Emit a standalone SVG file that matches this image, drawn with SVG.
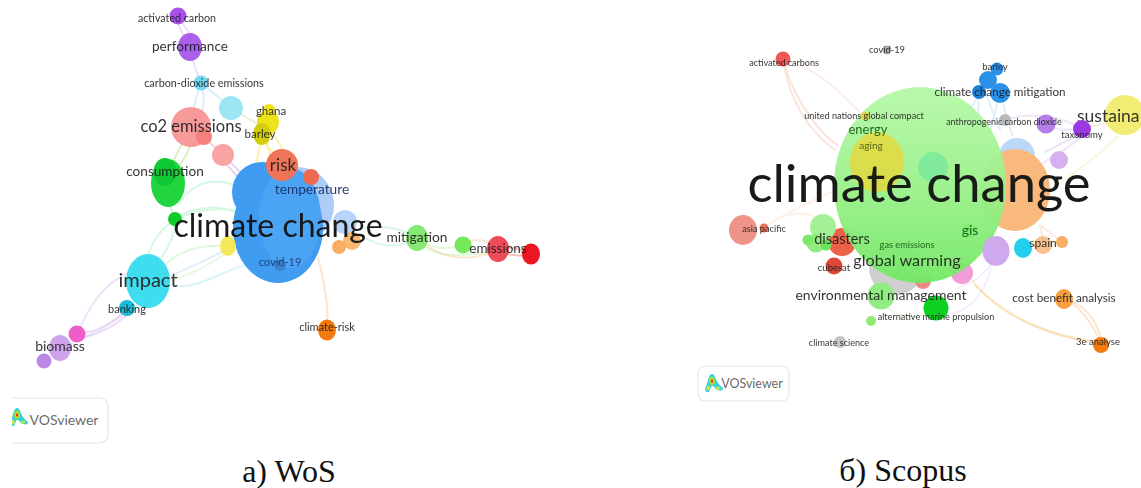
<svg xmlns="http://www.w3.org/2000/svg" width="1141" height="488" viewBox="0 0 1141 488">
<style>
text{font-family:"Lato","Liberation Sans",sans-serif;text-anchor:middle;fill:#1c1c1c;fill-opacity:.9}
.cap{font-family:"Liberation Serif",serif;font-size:32px;fill:#111;fill-opacity:1}
.big{fill:#111;fill-opacity:.95}
.e{fill:none;stroke-width:2;stroke-opacity:.45;stroke-linecap:round}
.vv{font-size:14px;fill:#555}
.box{fill:#fff;stroke:#e6e6e6;stroke-width:1.2}
</style>
<defs>
<filter id="soft" x="-5%" y="-5%" width="110%" height="110%"><feGaussianBlur stdDeviation="0.5"/></filter>
<linearGradient id="bigGreen" x1="0" y1="0" x2="0" y2="1"><stop offset="0" stop-color="#b6f8a8"/><stop offset=".55" stop-color="#98f088"/><stop offset="1" stop-color="#72e864"/></linearGradient>
<clipPath id="clipLeft"><rect x="12" y="390" width="100" height="60"/></clipPath>
<g id="icon">
<path d="M7 0C10 0 11 7 13 9C15 12 18 13 18 15C18 17 13 17 10 14C9 12 7 11 6 13C5 15 5 19 2 18C-1 17 0 13 2 10C3 7 4 0 7 0Z" fill="#2fd0e0"/>
<ellipse cx="7" cy="7" rx="3" ry="4.4" fill="#8ee04a"/>
<ellipse cx="7" cy="7" rx="1.8" ry="2.8" fill="#f6c21c"/>
<ellipse cx="7" cy="7" rx="1" ry="1.6" fill="#d9261c"/>
<ellipse cx="13" cy="14" rx="2.6" ry="1.7" fill="#a5e65a"/>
<ellipse cx="3" cy="14" rx="1.7" ry="2.6" fill="#d8e04a"/>
</g>
</defs>
<rect width="1141" height="488" fill="#fff"/>

<g id="connectors" filter="url(#soft)">
<path class="e" stroke="#d9b8f5" d="M178 18C178 30 186 38 190 47M178 18C186 28 194 36 190 47"/>
<path class="e" stroke="#d9b8f5" d="M190 47C192 62 197 72 201 83"/>
<path class="e" stroke="#a8def2" d="M201 83C196 98 192 110 191 127M201 83C206 98 204 112 196 125M201 83C212 92 222 100 231 108"/>
<path class="e" stroke="#b8e8a0" d="M231 108C245 118 258 122 265 130"/>
<path class="e" stroke="#a8e070" d="M191 127C182 145 172 160 168 175M191 127C194 145 186 160 168 178"/>
<path class="e" stroke="#f3a0a0" stroke-width="3" d="M204 137L223 155"/>
<path class="e" stroke="#c8a0e8" d="M223 155L246 178M223 160L240 180"/>
<path class="e" stroke="#f2e04a" d="M262 135L256 165M265 135L270 155M268 125L286 155M262 140L280 160"/>
<path class="e" stroke="#f3a090" d="M282 165L311 177M295 170L320 190"/>
<path class="e" stroke="#7ee8a8" d="M168 200L175 219"/>
<path class="e" stroke="#9df0c0" d="M178 205C195 178 220 176 245 190"/>
<path class="e" stroke="#9df0c0" d="M175 219C195 204 225 205 240 215M147 260C155 225 185 205 235 210M175 219C175 235 168 250 158 262"/>
<path class="e" stroke="#b5f0b0" d="M165 265C180 250 200 244 228 246"/>
<path class="e" stroke="#a8e8f0" stroke-width="2.5" d="M172 285C195 290 215 275 245 265"/>
<path class="e" stroke="#b8dcf5" d="M172 275C190 268 210 258 226 250"/>
<path class="e" stroke="#d0f0c0" d="M172 280C190 275 210 265 228 252"/>
<path class="e" stroke="#d9c0f5" stroke-width="2.5" d="M130 272C100 285 88 310 77 334"/>
<path class="e" stroke="#d9b0e8" d="M77 334C100 332 115 320 127 310M77 338C100 336 120 322 130 312"/>
<path class="e" stroke="#d0c8f0" d="M60 348C85 338 110 325 127 312"/>
<path class="e" stroke="#f8c49a" stroke-width="2.5" d="M318 258C324 280 329 305 327 328"/>
<path class="e" stroke="#a8e8e0" d="M350 232C380 222 400 228 417 238M362 236C380 248 395 248 417 240"/>
<path class="e" stroke="#c0f0a0" d="M417 238C432 250 448 250 463 245M417 240C432 256 450 258 490 252"/>
<path class="e" stroke="#f8cc9a" d="M425 245C450 262 475 260 498 250M463 242C478 238 490 240 498 248"/>
<path class="e" stroke="#f07070" stroke-width="3" d="M498 248C510 246 522 250 531 253M498 252C510 256 522 256 531 256"/>

<path class="e" stroke="#f8c0b0" stroke-width="2.5" d="M783 59C786 85 800 125 835 150M783 59C790 88 810 125 838 146"/>
<path class="e" stroke="#fbd8cc" d="M783 59C815 68 840 90 865 118"/>
<path class="e" stroke="#bcdcf8" stroke-width="2.5" d="M979 92L977 140M1000 93L985 150M985 92L1000 130M1000 93L1012 135M979 95L960 125"/>
<path class="e" stroke="#dcc8f5" d="M1005 120C1030 112 1060 115 1082 129M1046 124C1060 132 1070 130 1082 129M1080 134L1045 152M1082 136L1062 152M1082 138L1040 165"/>
<path class="e" stroke="#f8d0b0" d="M1082 128L1125 120"/>
<path class="e" stroke="#f8ecb0" d="M1118 136C1100 155 1075 172 1050 190"/>
<path class="e" stroke="#fbe0cc" d="M764 228C785 212 815 200 840 188M764 228C785 210 810 210 822 222"/>
<path class="e" stroke="#f8d4b0" d="M1040 225L1062 242M1040 225L1043 240"/>
<path class="e" stroke="#ecd8f8" d="M990 265C978 282 970 282 958 288M992 262C985 300 960 320 936 312"/>
<path class="e" stroke="#d8f4d0" d="M884 305C900 320 920 318 936 312"/>
<path class="e" stroke="#f2e488" stroke-width="2.5" d="M972 280C1000 318 1050 335 1098 342"/>
<path class="e" stroke="#f8c898" stroke-width="2.5" d="M1070 302C1085 312 1095 330 1100 342M1068 300C1090 308 1098 325 1102 342M975 285C1010 320 1050 336 1096 343"/>
</g>

<g filter="url(#soft)">
<g id="wos-blue-light"><ellipse cx="298" cy="205" rx="36" ry="38" fill="#aeccf8"/></g>
<g id="wos-blue-side"><circle cx="345" cy="222" r="12" fill="#b8d4f8"/></g>
<g id="wos-blue-upper"><circle cx="262" cy="192" r="30" fill="#3f9cf0"/></g>
<g id="wos-blue-main"><ellipse cx="278" cy="228" rx="45" ry="55" fill="#3f9cf0"/><ellipse cx="290" cy="218" rx="31" ry="50" fill="#4ca4f3"/></g>
<g id="wos-light-blue"><circle cx="231" cy="108" r="12" fill="#9be5f5"/></g>
<g id="wos-salmon"><circle cx="223" cy="155" r="11" fill="#f9a3a3"/></g>
<g id="wos-green-main"><ellipse cx="168" cy="183" rx="17" ry="24" fill="#22d43c"/><ellipse cx="165" cy="172" rx="11.5" ry="14" fill="#10c830"/></g>
<g id="wos-green-small"><circle cx="175" cy="219" r="7" fill="#10cc2c"/></g>
<g id="wos-yellow"><ellipse cx="228" cy="246" rx="8" ry="10" fill="#f4e85a"/></g>
<g id="wos-orange-1"><circle cx="352" cy="241" r="9" fill="#f9b771"/></g>
<g id="wos-orange-2"><circle cx="339" cy="247" r="7" fill="#f8ad62"/></g>
<g id="wos-green-2"><circle cx="463" cy="245" r="8.5" fill="#74e85c"/></g>
<g id="wos-red"><ellipse cx="531" cy="254" rx="9" ry="10.5" fill="#ea1420"/></g>
<g id="wos-pink"><circle cx="77" cy="334" r="8.5" fill="#f05cc8"/></g>
<g id="wos-purple-small"><circle cx="44" cy="361" r="7.5" fill="#bb88e8"/></g>

<g id="wos-activated-carbon"><circle cx="178" cy="16" r="8.5" fill="#a850ec"/><text x="177" y="22" font-size="10.7">activated carbon</text></g>
<g id="wos-performance"><ellipse cx="190" cy="47" rx="12" ry="14" fill="#aa60ea"/><text x="190" y="51" font-size="13.6">performance</text></g>
<g id="wos-carbon-dioxide"><circle cx="201" cy="83" r="7.5" fill="#74d8f2"/><text x="204" y="87" font-size="10.8">carbon-dioxide emissions</text></g>
<g id="wos-ghana"><circle cx="269" cy="110" r="6" fill="#f0e010"/><ellipse cx="268" cy="122" rx="11" ry="12" fill="#eee21c"/><text x="271" y="115" font-size="11.5">ghana</text></g>
<g id="wos-barley"><ellipse cx="262" cy="134" rx="9" ry="11" fill="#d4cc10"/><text x="260" y="138" font-size="11.5">barley</text></g>
<g id="wos-co2-emissions"><circle cx="191" cy="127" r="20" fill="#f99a9a"/><circle cx="204" cy="137" r="8" fill="#f48080"/><text x="191" y="132" font-size="16.5">co2 emissions</text></g>
<g id="wos-consumption"><text x="165" y="176" font-size="13.6">consumption</text></g>
<g id="wos-risk"><circle cx="282" cy="165" r="16" fill="#ee7558"/><text x="283" y="171" font-size="17">risk</text></g>
<g id="wos-temperature"><circle cx="311" cy="177" r="8" fill="#ec6a50"/><text x="312" y="194" font-size="13.7" style="fill:#1a2a60">temperature</text></g>
<g id="wos-mitigation"><ellipse cx="417" cy="238" rx="11" ry="13" fill="#86e874"/><text x="417" y="242" font-size="13.8">mitigation</text></g>
<g id="wos-emissions"><ellipse cx="498" cy="249" rx="11" ry="13" fill="#ee4c58"/><text x="498" y="253" font-size="13.5">emissions</text></g>
<g id="wos-impact"><ellipse cx="148" cy="281" rx="22" ry="27" fill="#3fdcf0"/><text x="148" y="287" font-size="20">impact</text></g>
<g id="wos-banking"><circle cx="127" cy="308" r="8" fill="#18bcd8"/><text x="127" y="313" font-size="11">banking</text></g>
<g id="wos-biomass"><ellipse cx="60" cy="348" rx="11" ry="13" fill="#cda4ec"/><text x="60" y="351" font-size="14">biomass</text></g>
<g id="wos-climate-risk"><ellipse cx="327" cy="330" rx="9" ry="10.5" fill="#f47a10"/><text x="327" y="331" font-size="11">climate-risk</text></g>
<g id="wos-covid-19"><circle cx="280" cy="265" r="6" fill="#3a84d0"/><text x="280" y="266" font-size="11" style="fill:#1a3a70">covid-19</text></g>
<g id="wos-climate-change"><text class="big" x="278" y="237" font-size="32">climate change</text></g>

<g id="sc-light-blue"><circle cx="1017" cy="156" r="18" fill="#bcd8f8"/></g>
<g id="sc-orange-main"><ellipse cx="1015" cy="190" rx="35" ry="41" fill="#f9b97c"/></g>
<g id="sc-gray-under"><circle cx="896" cy="268" r="27" fill="#cfcfcf"/></g>
<g id="sc-salmon-under"><circle cx="923" cy="281" r="8" fill="#ec8888"/></g>
<g id="sc-pink"><circle cx="962" cy="273" r="11" fill="#f29cd8"/></g>
<g id="sc-red-disasters"><circle cx="842" cy="242" r="14" fill="#ec6048"/></g>
<g id="sc-big-green"><ellipse cx="920" cy="185" rx="86" ry="98" fill="url(#bigGreen)" fill-opacity=".95"/><circle cx="933" cy="167" r="15" fill="#78e89c" fill-opacity=".8"/></g>
<g id="sc-yellow-aging"><ellipse cx="877" cy="162" rx="27" ry="30" fill="#e8d838" fill-opacity=".8"/></g>
<g id="sc-lg-1"><circle cx="823" cy="227" r="13" fill="#a4f096"/></g>
<g id="sc-lg-2"><circle cx="816" cy="243" r="9.5" fill="#92ec80"/></g>
<g id="sc-lg-3"><circle cx="808" cy="240" r="5.5" fill="#7ce868"/></g>
<g id="sc-lg-4"><circle cx="826" cy="245" r="5.5" fill="#6ce25c"/></g>
<g id="sc-purple-light"><circle cx="1059" cy="160" r="9" fill="#d4b0f0"/></g>
<g id="sc-purple-big"><ellipse cx="996" cy="251" rx="13.5" ry="15" fill="#cfa8ee"/></g>
<g id="sc-cyan"><ellipse cx="1023" cy="248" rx="9" ry="10" fill="#22d0ee"/></g>
<g id="sc-orange-small"><circle cx="1062" cy="242" r="6" fill="#f8ae64"/></g>
<g id="sc-barley-2"><circle cx="988" cy="80" r="9" fill="#2c90e8"/></g>
<g id="sc-purple-node"><circle cx="1046" cy="124" r="9.5" fill="#b57ee8"/></g>

<g id="sc-activated-carbons"><circle cx="783" cy="59" r="7.5" fill="#f05858"/><text x="784" y="66" font-size="9">activated carbons</text></g>
<g id="sc-covid-19"><circle cx="887" cy="50" r="4.5" fill="#b0b0b0"/><text x="887" y="53" font-size="9.3">covid-19</text></g>
<g id="sc-barley"><circle cx="997" cy="69" r="6.5" fill="#2c90e8"/><text x="995" y="70" font-size="9.5">barley</text></g>
<g id="sc-climate-change-mitigation"><circle cx="979" cy="92" r="7" fill="#1c80d8"/><circle cx="1000" cy="93" r="10" fill="#2c90e8"/><text x="1000" y="96" font-size="11.7">climate change mitigation</text></g>
<g id="sc-united-nations"><circle cx="865" cy="116" r="4" fill="#e8d040"/><text x="864" y="119" font-size="9.1">united nations global compact</text></g>
<g id="sc-energy"><text x="868" y="134" font-size="13" style="fill:#125a10">energy</text></g>
<g id="sc-aging"><text x="871" y="149" font-size="10" style="fill:#4a5a10">aging</text></g>
<g id="sc-anthropogenic"><circle cx="1005" cy="120" r="6" fill="#b8b8b8"/><text x="1004" y="125" font-size="8.9">anthropogenic carbon dioxide</text></g>
<g id="sc-sustainable"><circle cx="1125" cy="115" r="20" fill="#f2ec74"/><text x="1077" y="122" font-size="17.5" style="text-anchor:start">sustaina</text></g>
<g id="sc-taxonomy"><circle cx="1082" cy="129" r="9" fill="#9a38e4"/><text x="1082" y="138" font-size="9.5">taxonomy</text></g>
<g id="sc-asia-pacific"><ellipse cx="743" cy="230" rx="14" ry="15" fill="#ee9488"/><circle cx="764" cy="228" r="4.5" fill="#ec7060"/><text x="764" y="232" font-size="9.2">asia pacific</text></g>
<g id="sc-disasters"><text x="842" y="244" font-size="14.5">disasters</text></g>
<g id="sc-gis"><circle cx="970" cy="231" r="7" fill="#78e870" fill-opacity=".7"/><text x="970" y="235" font-size="14" style="fill:#125a10">gis</text></g>
<g id="sc-gas-emissions"><text x="907" y="248" font-size="9.2" style="fill:#125a10">gas emissions</text></g>
<g id="sc-global-warming"><text x="907" y="266" font-size="16.2">global warming</text></g>
<g id="sc-cubesat"><circle cx="834" cy="266" r="8.5" fill="#dc4a38"/><text x="834" y="271" font-size="9.5">cubesat</text></g>
<g id="sc-spain"><circle cx="1043" cy="245" r="9" fill="#f8c08c"/><text x="1043" y="247" font-size="12">spain</text></g>
<g id="sc-env-green"><circle cx="881" cy="296" r="13.5" fill="#92ec84"/></g>
<g id="sc-dark-green"><circle cx="936" cy="308" r="12.5" fill="#0cd020"/></g>
<g id="sc-environmental-management"><text x="881" y="300" font-size="14">environmental management</text></g>
<g id="sc-alternative-marine"><circle cx="871" cy="321" r="5" fill="#90ea70"/><text x="936" y="320" font-size="9.1">alternative marine propulsion</text></g>
<g id="sc-climate-science"><circle cx="840" cy="342" r="6" fill="#c4c4c4"/><text x="839" y="346" font-size="9.1">climate science</text></g>
<g id="sc-cost-benefit"><ellipse cx="1064" cy="299" rx="9" ry="10" fill="#f8a040"/><text x="1064" y="302" font-size="11.7">cost benefit analysis</text></g>
<g id="sc-3e-analyse"><circle cx="1101" cy="345" r="8" fill="#f47c0c"/><text x="1098" y="345" font-size="9.5">3e analyse</text></g>
<g id="sc-climate-change"><text class="big" x="919" y="202" font-size="52.5">climate change</text></g>
</g>

<g id="vosviewer-wos">
<path class="box" d="M12 398H99Q108 398 108 407V434Q108 443 99 443H12"/>
<g clip-path="url(#clipLeft)"><use href="#icon" x="10" y="408"/></g>
<text class="vv" x="64" y="425">VOSviewer</text>
</g>
<g id="vosviewer-scopus">
<rect class="box" x="698" y="366" width="91" height="35" rx="7"/>
<use href="#icon" x="705" y="374"/>
<text class="vv" x="752" y="388" style="font-size:12.5px">VOSviewer</text>
</g>
<text class="cap" x="289" y="482">a) WoS</text>
<text class="cap" x="903" y="481">б) Scopus</text>
</svg>
